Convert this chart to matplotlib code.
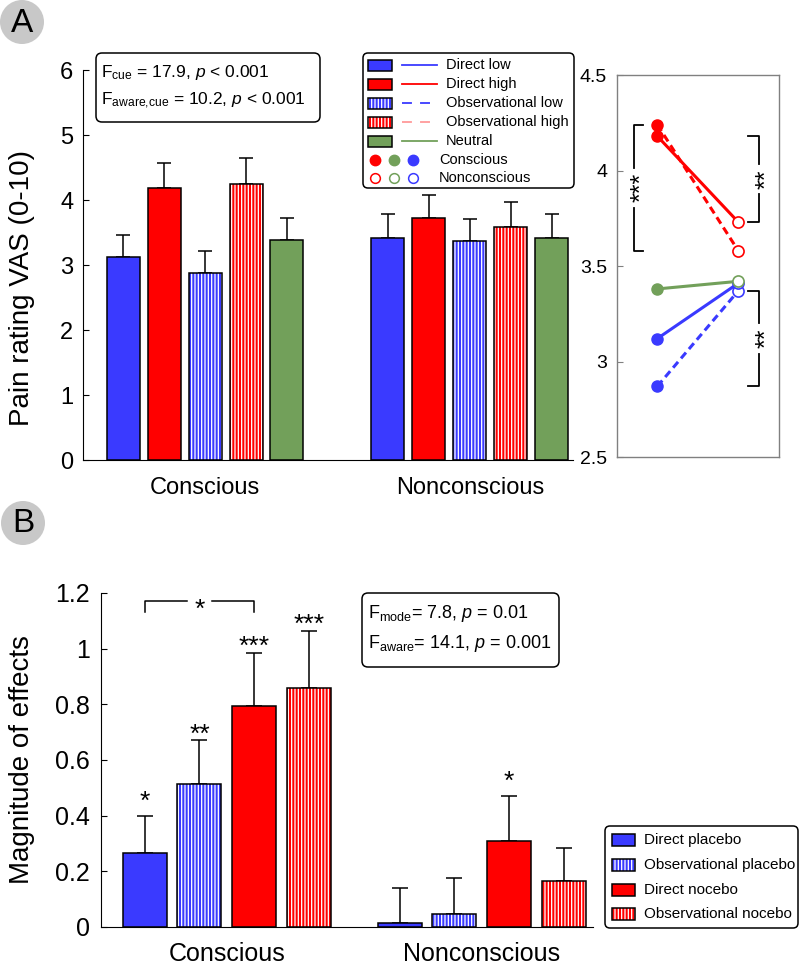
import numpy as np
import matplotlib
matplotlib.use('Agg')
import matplotlib.pyplot as plt
from matplotlib.patches import Rectangle, FancyBboxPatch, Circle
from matplotlib.ticker import FuncFormatter

plt.rcParams['font.family'] = 'Liberation Sans'
plt.rcParams['mathtext.fontset'] = 'custom'
plt.rcParams['mathtext.rm'] = 'Liberation Sans'
plt.rcParams['mathtext.it'] = 'Liberation Sans:italic'
plt.rcParams['hatch.linewidth'] = 0.9

# ---- data, panel A ----
groups = ['Conscious', 'Nonconscious']
cue_names = ['Direct low', 'Direct high', 'Observational low', 'Observational high', 'Neutral']
pain_conscious = [3.12, 4.18, 2.87, 4.24, 3.38]
pain_conscious_err = [0.34, 0.39, 0.35, 0.40, 0.35]
pain_nonconscious = [3.41, 3.73, 3.37, 3.58, 3.42]
pain_nonconscious_err = [0.37, 0.34, 0.34, 0.39, 0.36]
pain_yticks = [0, 1, 2, 3, 4, 5, 6]
zoom_yticks = [2.5, 3, 3.5, 4, 4.5]

# ---- data, panel B ----
effect_names = ['Direct placebo', 'Observational placebo', 'Direct nocebo', 'Observational nocebo']
effect_conscious = [0.265, 0.515, 0.795, 0.86]
effect_conscious_err = [0.135, 0.155, 0.19, 0.205]
effect_nonconscious = [0.015, 0.045, 0.31, 0.165]
effect_nonconscious_err = [0.125, 0.13, 0.16, 0.12]
sig_conscious = ['*', '**', '***', '***']
sig_nonconscious = ['', '', '*', '']
effect_yticks = [0, 0.2, 0.4, 0.6, 0.8, 1.0, 1.2]

BLUE = '#3A3AFF'
RED = '#FF0000'
GREEN = '#72A05A'
PINK = '#FF9A9A'

cue_colors = [BLUE, RED, BLUE, RED, GREEN]
cue_hatched = [False, False, True, True, False]
effect_colors = [BLUE, BLUE, RED, RED]
effect_hatched = [False, True, False, True]
HATCH = '|||||'


def draw_bar(ax, x, h, w, color, hatched):
    if hatched:
        ax.bar(x, h, w, color=color, edgecolor='white', hatch=HATCH, linewidth=0, zorder=2)
        ax.bar(x, h, w, fill=False, edgecolor='k', linewidth=1.1, zorder=3)
    else:
        ax.bar(x, h, w, color=color, edgecolor='k', linewidth=1.1, zorder=2)


def fmt_g(v, pos):
    return '%g' % v


fig = plt.figure(figsize=(8, 9.67), dpi=100)

# ---------------- panel A, bars ----------------
axA = fig.add_axes([0.104, 0.5243, 0.6125, 0.4033])
stepA, widthA = 0.1547, 0.1245
for gi, (vals, errs) in enumerate([(pain_conscious, pain_conscious_err),
                                   (pain_nonconscious, pain_nonconscious_err)]):
    for i in range(len(vals)):
        x = gi + 1 + (i - 2) * stepA
        axA.errorbar(x, vals[i], yerr=[[0], [errs[i]]], fmt='none', ecolor='k',
                     elinewidth=1.1, capsize=5, capthick=1.1, zorder=1)
        draw_bar(axA, x, vals[i], widthA, cue_colors[i], cue_hatched[i])
axA.set_xlim(0.54, 2.39)
axA.set_ylim(0, 6)
axA.set_yticks(pain_yticks)
axA.set_xticks([1, 2], groups)
axA.spines[['top', 'right']].set_visible(False)
axA.tick_params(axis='x', length=0, pad=12, labelsize=17)
axA.tick_params(axis='y', direction='in', length=4, pad=7, labelsize=17)

# ---------------- panel A, right ----------------
axR = fig.add_axes([0.771, 0.5274, 0.2025, 0.395])
line_styles = ['-', '-', (0, (2.5, 1.5)), (0, (2.5, 1.5)), '-']
for i in [2, 0, 4, 3, 1]:
    c = cue_colors[i]
    axR.plot([1, 2], [pain_conscious[i], pain_nonconscious[i]], color=c,
             linestyle=line_styles[i], linewidth=2.2, zorder=2)
    axR.plot(1, pain_conscious[i], 'o', ms=8, mfc=c, mec=c, zorder=3)
    axR.plot(2, pain_nonconscious[i], 'o', ms=8, mfc='white', mec=c, mew=1.2, zorder=3)


def bracket(ax, x, tip, y0, y1, stars, gap, fs=18):
    lo, hi = min(y0, y1), max(y0, y1)
    mid = (lo + hi) / 2
    ax.plot([tip, x, x], [lo, lo, mid - gap], color='k', lw=1.3, zorder=1)
    ax.plot([x, x, tip], [mid + gap, hi, hi], color='k', lw=1.3, zorder=1)
    ax.annotate(stars, xy=(x, mid), xytext=(0.575 * fs, 0),
                textcoords='offset points', rotation=90, rotation_mode='anchor',
                ha='center', va='baseline', fontsize=fs)


bracket(axR, 0.716, 0.827, pain_conscious[3], pain_nonconscious[3], '***', 0.105)
bracket(axR, 2.26, 2.12, pain_conscious[1], pain_nonconscious[1], '**', 0.08)
bracket(axR, 2.26, 2.12, pain_nonconscious[2], pain_conscious[2], '**', 0.08)
axR.set_xlim(0.5, 2.5)
axR.set_ylim(2.5, 4.5)
axR.set_yticks(zoom_yticks)
axR.yaxis.set_major_formatter(FuncFormatter(fmt_g))
axR.set_xticks([])
for s in axR.spines.values():
    s.set_color('#808080')
    s.set_linewidth(1.0)
axR.tick_params(axis='y', direction='in', length=4, pad=7, labelsize=14, color='#808080')

# ---------------- panel B ----------------
axB = fig.add_axes([0.126, 0.0414, 0.615, 0.3454])
stepB, widthB = 0.2145, 0.1725
offs_multi = -1
offs_single = 5
for gi, (vals, errs, sig) in enumerate([(effect_conscious, effect_conscious_err, sig_conscious),
                                        (effect_nonconscious, effect_nonconscious_err, sig_nonconscious)]):
    for i in range(len(vals)):
        x = gi + 1 + (i - 1.5) * stepB
        axB.errorbar(x, vals[i], yerr=[[0], [errs[i]]], fmt='none', ecolor='k',
                     elinewidth=1.1, capsize=6, capthick=1.1, zorder=1)
        draw_bar(axB, x, vals[i], widthB, effect_colors[i], effect_hatched[i])
        if sig[i]:
            off = offs_single if len(sig[i]) == 1 else offs_multi
            axB.annotate(sig[i], xy=(x, vals[i] + errs[i]), xytext=(0, off),
                         textcoords='offset points', ha='center', va='baseline', fontsize=19)

# bracket between direct placebo and direct nocebo (conscious)
xb0 = 1 + (0 - 1.5) * stepB
xb1 = 1 + (2 - 1.5) * stepB
xm = (xb0 + xb1) / 2
axB.plot([xb0, xb0, xm - 0.05], [1.13, 1.17, 1.17], color='k', lw=1.1)
axB.plot([xm + 0.05, xb1, xb1], [1.17, 1.17, 1.13], color='k', lw=1.1)
axB.annotate('*', xy=(xm, 1.17), xytext=(0, -0.575 * 19),
             textcoords='offset points', ha='center', va='baseline', fontsize=19)

axB.set_xlim(0.506, 2.435)
axB.set_ylim(0, 1.2)
axB.set_yticks(effect_yticks)
axB.yaxis.set_major_formatter(FuncFormatter(fmt_g))
axB.set_xticks([1, 2], groups)
axB.spines[['top', 'right']].set_visible(False)
axB.tick_params(axis='x', length=0, pad=10.5, labelsize=18)
axB.tick_params(axis='y', direction='in', length=4, pad=8, labelsize=18)

# ---------------- overlay in pixel coords ----------------
ov = fig.add_axes([0, 0, 1, 1], zorder=10)
ov.set_xlim(0, 800)
ov.set_ylim(967, 0)
ov.axis('off')

for (cx, cy), letter in [((22, 22), 'A'), ((23, 523), 'B')]:
    ov.add_patch(Circle((cx, cy), 22, fc='#C8C8C8', ec='none'))
    ov.text(cx, cy + 1, letter, fontsize=24, ha='center', va='center')

ov.text(22, 288, 'Pain rating VAS (0-10)', rotation=90, ha='center', va='center', fontsize=20)
ov.text(22, 760, 'Magnitude of effects', rotation=90, ha='center', va='center', fontsize=20)

# stats box A
ov.add_patch(FancyBboxPatch((96, 53), 224, 69, boxstyle='round,pad=0,rounding_size=6',
                            fc='white', ec='k', lw=1.1))
ov.text(101, 73, r'$\mathrm{F_{cue}}$ = 17.9, $p$ < 0.001', fontsize=12.5, va='center')
ov.text(101, 101, r'$\mathrm{F_{aware{,}cue}}$ = 10.2, $p$ < 0.001', fontsize=12.5, va='center')

# legend A
ov.add_patch(FancyBboxPatch((363, 53), 211, 135, boxstyle='round,pad=0,rounding_size=5',
                            fc='white', ec='k', lw=1.1))
rowsA = [65, 84, 103, 122, 141, 160, 178]
legend_line_colors = [BLUE, RED, BLUE, PINK, GREEN]
for i, name in enumerate(cue_names):
    y = rowsA[i]
    if cue_hatched[i]:
        ov.add_patch(Rectangle((368, y - 5.5), 24, 11, fc=cue_colors[i], ec='white', hatch=HATCH, lw=0))
        ov.add_patch(Rectangle((368, y - 5.5), 24, 11, fill=False, ec='k', lw=1.1))
    else:
        ov.add_patch(Rectangle((368, y - 5.5), 24, 11, fc=cue_colors[i], ec='k', lw=1.1))
    ls = '-' if not cue_hatched[i] else (0, (5.5, 4.5))
    ov.plot([402, 437], [y, y], color=legend_line_colors[i], lw=1.3, linestyle=ls)
    ov.text(446, y, name, fontsize=10.5, va='center')
for cx, c in zip([375, 394, 413], [RED, GREEN, BLUE]):
    ov.plot(cx, rowsA[5], 'o', ms=7.5, mfc=c, mec=c)
    ov.plot(cx, rowsA[6], 'o', ms=7, mfc='white', mec=c, mew=1.1)
ov.text(439, rowsA[5], groups[0], fontsize=10.5, va='center')
ov.text(439, rowsA[6], groups[1], fontsize=10.5, va='center')

# stats box B
ov.add_patch(FancyBboxPatch((362, 593), 197, 74, boxstyle='round,pad=0,rounding_size=6',
                            fc='white', ec='k', lw=1.1))
ov.text(368, 613, r'$\mathrm{F_{mode}}$= 7.8, $p$ = 0.01', fontsize=13, va='center')
ov.text(368, 643, r'$\mathrm{F_{aware}}$= 14.1, $p$ = 0.001', fontsize=13, va='center')

# legend B
ov.add_patch(FancyBboxPatch((605, 826), 193, 102, boxstyle='round,pad=0,rounding_size=5',
                            fc='white', ec='k', lw=1.1))
rowsB = [840, 865, 890, 914]
for i, name in enumerate(effect_names):
    y = rowsB[i]
    if effect_hatched[i]:
        ov.add_patch(Rectangle((612, y - 6), 23, 12, fc=effect_colors[i], ec='white', hatch=HATCH, lw=0))
        ov.add_patch(Rectangle((612, y - 6), 23, 12, fill=False, ec='k', lw=1.1))
    else:
        ov.add_patch(Rectangle((612, y - 6), 23, 12, fc=effect_colors[i], ec='k', lw=1.1))
    ov.text(644, y, name, fontsize=11, va='center')

fig.savefig('out.png', dpi=100)
